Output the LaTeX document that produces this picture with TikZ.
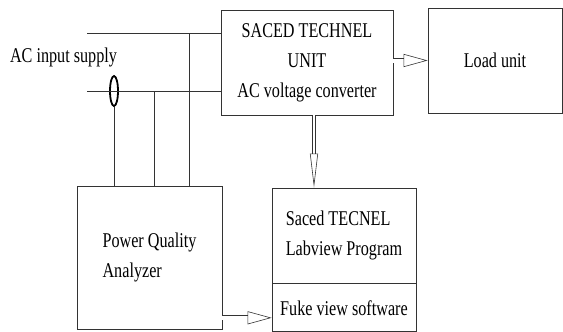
\documentclass[tikz,border=0pt]{standalone}
\usepackage{fontspec}
\setmainfont{Liberation Serif}
\newfontfamily\diagfont[FakeStretch=0.77]{Liberation Serif}
\usepackage{tikz}
\usetikzlibrary{shapes.geometric, arrows.meta, positioning, calc}
\tikzset{
  box/.style = {
    rectangle, draw=black!80, line width=0.8pt, fill=white,
    inner sep=0pt, align=center,
    font=\diagfont\fontsize{21}{30}\selectfont
  },
  lbl/.style = {inner sep=0pt, font=\diagfont\fontsize{21}{30}\selectfont},
  wire/.style = {line width=0.8pt, black!80},
  clamp/.style = {
    ellipse, draw=black, line width=1.8pt,
    minimum width=8pt, minimum height=30pt, inner sep=0pt
  },
  harr/.style = {double=white, double distance=4pt, line width=0.6pt, black!80,
    -{Triangle[open, length=24pt, width=13pt]}},
  varr/.style = {double=white, double distance=2pt, line width=0.6pt, black!80,
    -{Triangle[open, length=34pt, width=8pt]}}
}

\begin{document}
\begin{tikzpicture}[x=1pt, y=-1pt]
\useasboundingbox (0,0) rectangle (563,332);

%% main blocks
\node[box, minimum width=172pt, minimum height=105pt] (saced) at (307,62.5)
      {SACED TECHNEL\\UNIT\\AC voltage converter};
\node[box, minimum width=134pt, minimum height=105pt] (load) at (495,60.5)
      {Load unit};
\node[box, minimum width=145pt, minimum height=143pt, align=left] (pqa) at (149.5,257.5)
      {Power Quality\\Analyzer};
\node[box, minimum width=144pt, minimum height=95pt, align=left] (lab) at (344,235.5)
      {Saced TECNEL\\Labview Program};
\node[box, minimum width=144pt, minimum height=48pt, below=0pt of lab] (fuke)
      {Fuke view software};

%% supply side
\node[lbl] (ac) at (63.5,57) {AC input supply};
\coordinate (in1) at (87,33);
\coordinate (in2) at (87,91);
\node[clamp] (ct) at (114,91) {};

\draw[wire] (in1) -- (in1 -| saced.west);
\draw[wire] (in2) -- (in2 -| saced.west);

%% taps into the analyzer
\coordinate (t1) at (189,33);
\coordinate (t2) at (154,91);
\draw[wire] (t1) -- (t1 |- pqa.north);
\draw[wire] (t2) -- (t2 |- pqa.north);
\draw[wire] (ct.south) -- (ct.south |- pqa.north);

%% hollow arrows
\draw[harr] (saced.east |- load.west) -- (load.west);
\coordinate (v1) at ($(saced.south)+(7,0)$);
\draw[varr] (v1) -- (v1 |- lab.north);
\coordinate (h1) at ($(fuke.west)+(0,10)$);
\draw[harr] (h1 -| pqa.east) -- (h1);

\end{tikzpicture}
\end{document}
